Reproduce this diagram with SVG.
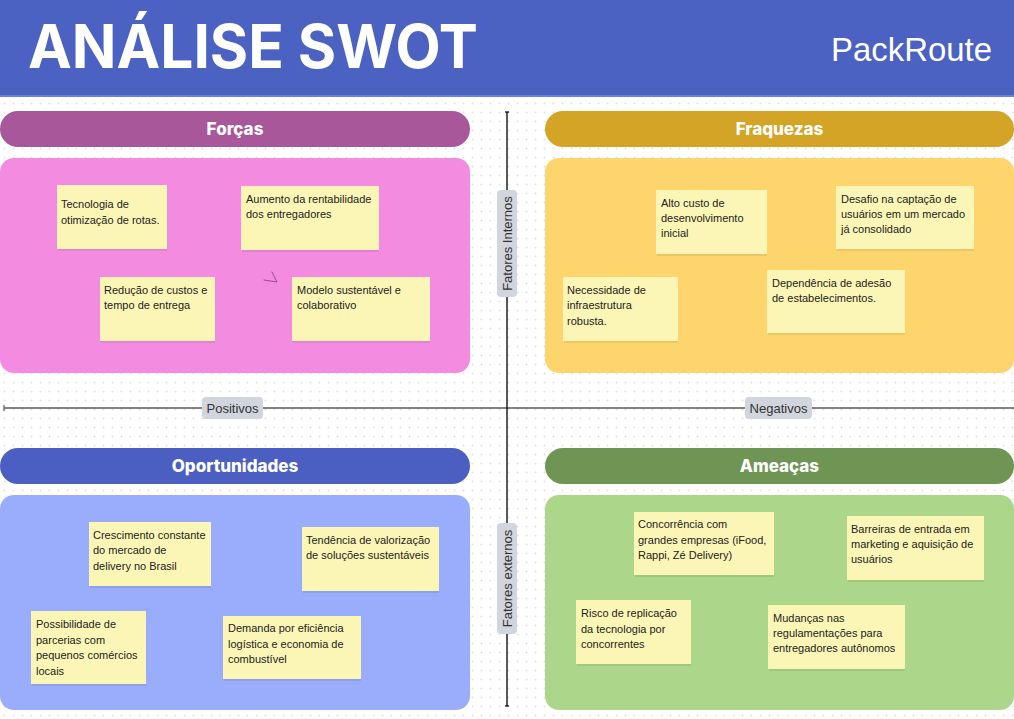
<svg xmlns="http://www.w3.org/2000/svg" width="1014" height="719" viewBox="0 0 1014 719">
  <style>
    .note { fill: #fcf6b6; }
    .shadow { fill: #000000; opacity: 0.07; }
    .nt { font-family: "Liberation Sans", Arial, sans-serif; font-size: 11px; fill: #222222; }
    .hdr { font-family: Inter, "Open Sans", sans-serif; font-weight: 800; font-size: 17px; fill: #ffffff; text-anchor: middle; }
    .tag { fill: #d1d5dd; }
    .tagt { font-family: "Liberation Sans", Arial, sans-serif; font-size: 13px; fill: #333333; text-anchor: middle; }
  </style>
  <defs>
    <pattern id="grid" width="9" height="9" patternUnits="userSpaceOnUse">
      <rect x="4" y="3.5" width="1" height="2" fill="#e2e2e2"/>
      <rect x="3.5" y="4" width="2" height="1" fill="#e2e2e2"/>
    </pattern>
  </defs>

  <!-- canvas -->
  <rect width="1014" height="719" fill="#ffffff"/>
  <rect y="97" width="1014" height="622" fill="url(#grid)"/>

  <!-- title bar -->
  <g id="title">
    <rect width="1014" height="97" fill="#4b62c2"/>
    <rect y="95" width="1014" height="2" fill="#6a80d6"/>
    <text x="28" y="68" font-family="Inter, 'Open Sans', sans-serif" font-weight="700" font-size="60" fill="#ffffff" textLength="450" lengthAdjust="spacingAndGlyphs">ANÁLISE SWOT</text>
    <text x="831" y="61" font-family="'Liberation Sans', Arial, sans-serif" font-size="34" fill="#ffffff" textLength="161" lengthAdjust="spacingAndGlyphs">PackRoute</text>
  </g>

  <!-- axes -->
  <g id="axes">
    <line x1="4" y1="408" x2="1014" y2="408" stroke="#5a5a5a" stroke-width="1.6"/>
    <line x1="4" y1="405" x2="4" y2="411" stroke="#5a5a5a" stroke-width="1.2"/>
    <line x1="507" y1="112" x2="507" y2="706" stroke="#000000" stroke-width="1.3"/>
    <line x1="505" y1="112" x2="509" y2="112" stroke="#000000" stroke-width="1.2"/>
    <line x1="505" y1="706" x2="509" y2="706" stroke="#000000" stroke-width="1.2"/>
  </g>

  <!-- axis labels -->
  <g id="label-positivos">
    <rect class="tag" x="202" y="397" width="61" height="22" rx="4"/>
    <text class="tagt" x="232.5" y="412.5">Positivos</text>
  </g>
  <g id="label-negativos">
    <rect class="tag" x="745" y="397" width="67" height="22" rx="4"/>
    <text class="tagt" x="778.5" y="412.5">Negativos</text>
  </g>
  <g id="label-internos">
    <rect class="tag" x="497" y="190" width="20" height="107" rx="4"/>
    <text class="tagt" transform="translate(512 243.5) rotate(-90)">Fatores Internos</text>
  </g>
  <g id="label-externos">
    <rect class="tag" x="497" y="523" width="20" height="111" rx="4"/>
    <text class="tagt" transform="translate(512 578.5) rotate(-90)">Fatores externos</text>
  </g>

  <!-- Forças -->
  <g id="forcas">
    <rect x="0" y="111" width="470" height="36" rx="18" fill="#a8579a"/>
    <text class="hdr" x="235" y="135">Forças</text>
    <rect x="0" y="158" width="470" height="215" rx="14" fill="#f38ce0"/>
    <path d="M264 280 L277 282 L272 272" fill="none" stroke="#9a4c8f" stroke-width="1" stroke-linecap="round" stroke-linejoin="round"/>
  </g>
  <g id="f1">
    <rect class="shadow" x="58" y="249" width="109" height="2"/>
    <rect class="note" x="57" y="185" width="110" height="64"/>
    <text class="nt"><tspan x="61" y="208">Tecnologia de</tspan><tspan x="61" y="224">otimização de rotas.</tspan></text>
  </g>
  <g id="f2">
    <rect class="shadow" x="242" y="250" width="137" height="2"/>
    <rect class="note" x="241" y="186" width="138" height="64"/>
    <text class="nt"><tspan x="246" y="203">Aumento da rentabilidade</tspan><tspan x="246" y="218">dos entregadores</tspan></text>
  </g>
  <g id="f3">
    <rect class="shadow" x="101" y="341" width="114" height="2"/>
    <rect class="note" x="100" y="277" width="115" height="64"/>
    <text class="nt"><tspan x="104" y="294">Redução de custos e</tspan><tspan x="104" y="309">tempo de entrega</tspan></text>
  </g>
  <g id="f4">
    <rect class="shadow" x="293" y="341" width="137" height="2"/>
    <rect class="note" x="292" y="277" width="138" height="64"/>
    <text class="nt"><tspan x="297" y="294">Modelo sustentável e</tspan><tspan x="297" y="309">colaborativo</tspan></text>
  </g>

  <!-- Fraquezas -->
  <g id="fraquezas">
    <rect x="545" y="111" width="469" height="36" rx="18" fill="#d4a427"/>
    <text class="hdr" x="779.5" y="135">Fraquezas</text>
    <rect x="545" y="158" width="469" height="215" rx="14" fill="#fed46c"/>
  </g>
  <g id="w1">
    <rect class="shadow" x="657" y="254" width="110" height="2"/>
    <rect class="note" x="656" y="190" width="111" height="64"/>
    <text class="nt"><tspan x="661" y="207">Alto custo de</tspan><tspan x="661" y="222">desenvolvimento</tspan><tspan x="661" y="237">inicial</tspan></text>
  </g>
  <g id="w2">
    <rect class="shadow" x="837" y="249" width="137" height="2"/>
    <rect class="note" x="836" y="186" width="138" height="63"/>
    <text class="nt"><tspan x="841" y="203">Desafio na captação de</tspan><tspan x="841" y="218">usuários em um mercado</tspan><tspan x="841" y="233">já consolidado</tspan></text>
  </g>
  <g id="w3">
    <rect class="shadow" x="564" y="341" width="114" height="2"/>
    <rect class="note" x="563" y="277" width="115" height="64"/>
    <text class="nt"><tspan x="567" y="294">Necessidade de</tspan><tspan x="567" y="309">infraestrutura</tspan><tspan x="567" y="325">robusta.</tspan></text>
  </g>
  <g id="w4">
    <rect class="shadow" x="768" y="333" width="137" height="2"/>
    <rect class="note" x="767" y="270" width="138" height="63"/>
    <text class="nt"><tspan x="772" y="287">Dependência de adesão</tspan><tspan x="772" y="302">de estabelecimentos.</tspan></text>
  </g>

  <!-- Oportunidades -->
  <g id="oportunidades">
    <rect x="0" y="448" width="470" height="36" rx="18" fill="#4a5fc1"/>
    <text class="hdr" x="235" y="472">Oportunidades</text>
    <rect x="0" y="495" width="470" height="215" rx="14" fill="#9aadfc"/>
  </g>
  <g id="o1">
    <rect class="shadow" x="90" y="586" width="121" height="2"/>
    <rect class="note" x="89" y="522" width="122" height="64"/>
    <text class="nt"><tspan x="93" y="539">Crescimento constante</tspan><tspan x="93" y="554">do mercado de</tspan><tspan x="93" y="570">delivery no Brasil</tspan></text>
  </g>
  <g id="o2">
    <rect class="shadow" x="303" y="591" width="136" height="2"/>
    <rect class="note" x="302" y="527" width="137" height="64"/>
    <text class="nt"><tspan x="306" y="544">Tendência de valorização</tspan><tspan x="306" y="559">de soluções sustentáveis</tspan></text>
  </g>
  <g id="o3">
    <rect class="shadow" x="32" y="684" width="114" height="2"/>
    <rect class="note" x="31" y="611" width="115" height="73"/>
    <text class="nt"><tspan x="36" y="628">Possibilidade de</tspan><tspan x="36" y="644">parcerias com</tspan><tspan x="36" y="659">pequenos comércios</tspan><tspan x="36" y="675">locais</tspan></text>
  </g>
  <g id="o4">
    <rect class="shadow" x="224" y="679" width="137" height="2"/>
    <rect class="note" x="223" y="616" width="138" height="63"/>
    <text class="nt"><tspan x="228" y="632">Demanda por eficiência</tspan><tspan x="228" y="648">logística e economia de</tspan><tspan x="228" y="663">combustível</tspan></text>
  </g>

  <!-- Ameaças -->
  <g id="ameacas">
    <rect x="545" y="448" width="469" height="36" rx="18" fill="#6f9554"/>
    <text class="hdr" x="779.5" y="472">Ameaças</text>
    <rect x="545" y="495" width="469" height="215" rx="14" fill="#acd78a"/>
  </g>
  <g id="t1">
    <rect class="shadow" x="635" y="575" width="139" height="2"/>
    <rect class="note" x="634" y="512" width="140" height="63"/>
    <text class="nt"><tspan x="638" y="528">Concorrência com</tspan><tspan x="638" y="544">grandes empresas (iFood,</tspan><tspan x="638" y="559">Rappi, Zé Delivery)</tspan></text>
  </g>
  <g id="t2">
    <rect class="shadow" x="848" y="580" width="136" height="2"/>
    <rect class="note" x="847" y="516" width="137" height="64"/>
    <text class="nt"><tspan x="851" y="533">Barreiras de entrada em</tspan><tspan x="851" y="548">marketing e aquisição de</tspan><tspan x="851" y="563">usuários</tspan></text>
  </g>
  <g id="t3">
    <rect class="shadow" x="577" y="664" width="114" height="2"/>
    <rect class="note" x="576" y="600" width="115" height="64"/>
    <text class="nt"><tspan x="581" y="617">Risco de replicação</tspan><tspan x="581" y="633">da tecnologia por</tspan><tspan x="581" y="648">concorrentes</tspan></text>
  </g>
  <g id="t4">
    <rect class="shadow" x="769" y="669" width="136" height="2"/>
    <rect class="note" x="768" y="605" width="137" height="64"/>
    <text class="nt"><tspan x="773" y="622">Mudanças nas</tspan><tspan x="773" y="637">regulamentações para</tspan><tspan x="773" y="652">entregadores autônomos</tspan></text>
  </g>
</svg>
